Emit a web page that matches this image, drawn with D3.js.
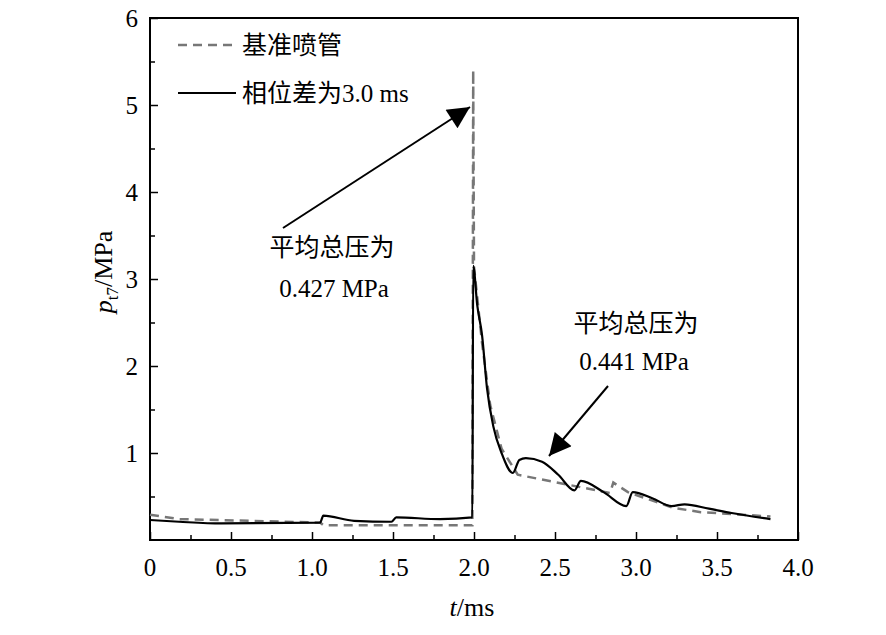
<!DOCTYPE html>
<html><head><meta charset="utf-8">
<script src="https://cdn.jsdelivr.net/npm/d3@7"></script>
<style>body{margin:0;background:#fff}</style>
</head><body>
<svg id="chart" width="886" height="635"></svg>
<script>
(function(){

  // t (ms), pressure (MPa)
  var solidT = [0, 0.18, 0.44, 1.05, 1.07, 1.26, 1.49, 1.52, 1.79, 1.99, 1.995, 2.02, 2.05, 2.08, 2.12, 2.17, 2.24, 2.28, 2.32, 2.42, 2.52, 2.62, 2.66, 2.8, 2.94, 2.98, 3.1, 3.22, 3.30, 3.45, 3.59, 3.83];
  var solidP = [0.23, 0.21, 0.19, 0.20, 0.28, 0.22, 0.21, 0.26, 0.24, 0.26, 3.15, 2.7, 2.35, 1.75, 1.3, 1.0, 0.77, 0.92, 0.94, 0.90, 0.75, 0.57, 0.68, 0.55, 0.39, 0.55, 0.48, 0.39, 0.41, 0.36, 0.31, 0.24];
  var dashT = [0, 0.18, 1.05, 1.07, 1.5, 1.92, 1.99, 1.995, 2.0, 2.05, 2.1, 2.17, 2.27, 2.84, 2.86, 2.95, 3.23, 3.4, 3.83];
  var dashP = [0.29, 0.24, 0.20, 0.17, 0.17, 0.17, 0.17, 5.4, 3.14, 2.26, 1.55, 1.05, 0.75, 0.54, 0.66, 0.55, 0.37, 0.32, 0.27];
  var xTicks = [0, 0.5, 1.0, 1.5, 2.0, 2.5, 3.0, 3.5, 4.0];
  var yTicks = [1, 2, 3, 4, 5, 6];

  var left = 150, right = 798, top = 18, bottom = 540;
  var svg = d3.select('#chart');
  var x = d3.scaleLinear().domain([0, 4]).range([left, right]);
  var y = d3.scaleLinear().domain([0, 6]).range([bottom, top]);
  var serif = 'Liberation Serif, Times New Roman, serif';
  var cjk = 'Liberation Serif, Noto Sans CJK SC, serif';

  // frame
  svg.append('rect').attr('x', left).attr('y', top).attr('width', right - left).attr('height', bottom - top)
    .attr('fill', 'none').attr('stroke', '#000').attr('stroke-width', 2);

  // inward ticks
  svg.append('g').attr('transform', 'translate(0,' + bottom + ')')
    .call(d3.axisBottom(x).tickValues(d3.range(0, 4.01, 0.25)).tickSize(-8).tickFormat(''))
    .call(function(g){ g.select('.domain').remove(); g.selectAll('line').attr('stroke-width', 1.5)
      .attr('y2', function(d){ return Math.abs(d * 2 - Math.round(d * 2)) < 1e-6 ? -8 : -5; }); });
  svg.append('g').attr('transform', 'translate(' + left + ',0)')
    .call(d3.axisLeft(y).tickValues(d3.range(0.5, 6.01, 0.5)).tickSize(-8).tickFormat(''))
    .call(function(g){ g.select('.domain').remove(); g.selectAll('line').attr('stroke-width', 1.5)
      .attr('x2', function(d){ return Math.abs(d - Math.round(d)) < 1e-6 ? 8 : 5; }); });

  svg.selectAll('.xl').data(xTicks).enter().append('text')
    .attr('x', function(d){ return x(d); }).attr('y', bottom + 36)
    .attr('text-anchor', 'middle').attr('font-family', serif).attr('font-size', 25)
    .text(function(d){ return d === 0 ? '0' : d.toFixed(1); });
  svg.selectAll('.yl').data(yTicks).enter().append('text')
    .attr('x', left - 12).attr('y', function(d){ return y(d) + 9; })
    .attr('text-anchor', 'end').attr('font-family', serif).attr('font-size', 25)
    .text(function(d){ return d; });

  // axis titles
  var xt = svg.append('text').attr('x', 472).attr('y', 616).attr('text-anchor', 'middle')
    .attr('font-family', serif).attr('font-size', 26);
  xt.append('tspan').attr('font-style', 'italic').text('t');
  xt.append('tspan').text('/ms');
  var yt = svg.append('text').attr('transform', 'translate(112,272) rotate(-90)').attr('text-anchor', 'middle')
    .attr('font-family', serif).attr('font-size', 26);
  yt.append('tspan').attr('font-style', 'italic').text('p');
  yt.append('tspan').attr('font-size', 17).attr('dy', 6).text('t7');
  yt.append('tspan').attr('dy', -6).text('/MPa');

  var line = d3.line().x(function(d){ return x(d[0]); }).y(function(d){ return y(d[1]); });
  svg.append('path').datum(d3.zip(dashT, dashP)).attr('d', line)
    .attr('fill', 'none').attr('stroke', '#777').attr('stroke-width', 2.5).attr('stroke-dasharray', '9,6');
  svg.append('path').datum(d3.zip(solidT, solidP)).attr('d', line.curve(d3.curveMonotoneX))
    .attr('fill', 'none').attr('stroke', '#000').attr('stroke-width', 2.2);

  // legend
  svg.append('line').attr('x1', 178).attr('x2', 236).attr('y1', 45).attr('y2', 45)
    .attr('stroke', '#777').attr('stroke-width', 2.5).attr('stroke-dasharray', '9,6');
  svg.append('text').attr('x', 242).attr('y', 54).attr('font-family', cjk).attr('font-size', 25).text('基准喷管');
  svg.append('line').attr('x1', 178).attr('x2', 236).attr('y1', 93).attr('y2', 93)
    .attr('stroke', '#000').attr('stroke-width', 2.2);
  svg.append('text').attr('x', 242).attr('y', 102).attr('font-family', cjk).attr('font-size', 25).text('相位差为3.0 ms');

  // annotations
  svg.append('defs').append('marker').attr('id', 'ah').attr('viewBox', '0 0 10 10')
    .attr('refX', 10).attr('refY', 5)
    .attr('markerUnits', 'userSpaceOnUse').attr('orient', 'auto')
    .attr('markerWidth', 26).attr('markerHeight', 22)
    .append('path').attr('d', 'M0,0L10,5L0,10z').attr('fill', '#000');
  svg.append('line').attr('x1', 283).attr('y1', 228).attr('x2', 470).attr('y2', 107)
    .attr('stroke', '#000').attr('stroke-width', 2).attr('marker-end', 'url(#ah)');
  svg.append('line').attr('x1', 608).attr('y1', 386).attr('x2', 549).attr('y2', 456)
    .attr('stroke', '#000').attr('stroke-width', 2).attr('marker-end', 'url(#ah)');
  [[332, 256, '平均总压为'], [334, 297, '0.427 MPa'], [636, 332, '平均总压为'], [634, 370, '0.441 MPa']].forEach(function(a){
    svg.append('text').attr('x', a[0]).attr('y', a[1]).attr('text-anchor', 'middle')
      .attr('font-family', cjk).attr('font-size', 25).text(a[2]);
  });

})();
</script>
</body></html>
